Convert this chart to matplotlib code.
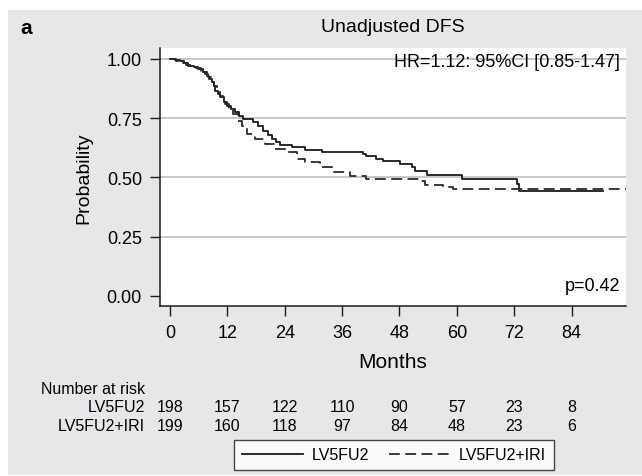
import matplotlib

matplotlib.use("Agg")
import matplotlib.pyplot as plt
from matplotlib.patches import Rectangle
from matplotlib.transforms import blended_transform_factory

# Kaplan-Meier steps (months, survival probability)
lv5fu2_t = [0, 1.0, 2.1, 3.0, 3.8, 5.0, 5.9, 7.0, 7.7, 8.2, 8.7, 9.1, 9.4, 10.0, 10.5,
            11.2, 11.9, 12.8, 13.6, 14.5, 15.3, 17.4, 18.5, 19.5, 20.4, 21.3, 22.2, 23.0,
            25.5, 28.2, 31.7, 40.4, 41.1, 43.0, 44.6, 48.1, 50.6, 51.3, 53.7, 61.0,
            72.5, 73.1, 90.6]
lv5fu2_s = [1.0, 0.995, 0.990, 0.981, 0.972, 0.965, 0.958, 0.944, 0.930, 0.916, 0.902,
            0.887, 0.866, 0.852, 0.838, 0.817, 0.803, 0.789, 0.775, 0.761, 0.747, 0.733,
            0.716, 0.698, 0.680, 0.662, 0.650, 0.639, 0.627, 0.617, 0.606, 0.600, 0.589,
            0.580, 0.571, 0.557, 0.543, 0.526, 0.512, 0.494, 0.473, 0.444, 0.444]
iri_t = [0, 1.2, 2.4, 3.4, 4.5, 5.5, 6.5, 7.3, 8.0, 8.6, 9.2, 9.8, 10.4, 11.0, 11.6,
         12.4, 13.2, 14.2, 15.0, 16.0, 17.8, 19.9, 22.0, 24.1, 26.5, 28.2, 31.4, 33.8,
         37.7, 41.1, 52.3, 53.3, 57.2, 59.3, 95.4]
iri_s = [1.0, 0.993, 0.985, 0.975, 0.968, 0.960, 0.950, 0.938, 0.922, 0.905, 0.885,
         0.862, 0.845, 0.828, 0.812, 0.790, 0.768, 0.740, 0.719, 0.684, 0.662, 0.641,
         0.620, 0.606, 0.578, 0.564, 0.543, 0.522, 0.505, 0.494, 0.487, 0.468, 0.461,
         0.451, 0.451]

x_ticks = [0, 12, 24, 36, 48, 60, 72, 84]
y_ticks = [0.0, 0.25, 0.5, 0.75, 1.0]
risk_lv5fu2 = [198, 157, 122, 110, 90, 57, 23, 8]
risk_iri = [199, 160, 118, 97, 84, 48, 23, 6]

plt.rcParams["font.family"] = ["Liberation Sans", "DejaVu Sans"]

W, H = 642, 477
fig = plt.figure(figsize=(W / 100, H / 100), dpi=100)
fig.patches.append(Rectangle((8 / W, 1 - 476 / H), 634 / W, 465 / H, transform=fig.transFigure,
                             facecolor="#e6e7e9", edgecolor="none", zorder=-10))

ax = fig.add_axes([160 / W, 1 - 307 / H, 466 / W, 258 / H])
ax.set_facecolor("white")
ax.set_xlim(-2.1, 95.4)
ax.set_ylim(-0.0422, 1.0464)

for y in [0.25, 0.5, 0.75, 1.0]:
    ax.axhline(y, color="#c4c4c4", lw=1.3, zorder=1)

ax.step(lv5fu2_t, lv5fu2_s, where="post", color="#1a1a1a", lw=1.3, zorder=3, label="LV5FU2")
ax.step(iri_t, iri_s, where="post", color="#2a2a2a", lw=1.3, ls=(0, (6, 3)), zorder=3,
        label="LV5FU2+IRI")

for side in ["top", "right"]:
    ax.spines[side].set_visible(False)
for side in ["left", "bottom"]:
    ax.spines[side].set_color("#1a1a1a")
    ax.spines[side].set_linewidth(1.1)

ax.set_xticks(x_ticks)
ax.set_yticks(y_ticks)
ax.set_yticklabels([f"{v:.2f}" for v in y_ticks])
ax.tick_params(axis="both", direction="out", length=7, width=1, color="#1a1a1a",
               labelsize=13, pad=6)
ax.set_xlabel("Months", fontsize=15, labelpad=8)
ax.set_ylabel("Probability", fontsize=14, labelpad=10)

ax.text(0.987, 0.946, "HR=1.12: 95%CI [0.85-1.47]", transform=ax.transAxes, ha="right",
        va="center", fontsize=13)
ax.text(0.987, 0.078, "p=0.42", transform=ax.transAxes, ha="right", va="center", fontsize=13)

fig.text(20 / W, 1 - 29 / H, "a", fontsize=15, fontweight="bold", ha="left", va="center")
fig.text(393 / W, 1 - 27 / H, "Unadjusted DFS", fontsize=14, ha="center", va="center")

# number at risk table
tr = blended_transform_factory(ax.transData, fig.transFigure)
fig.text(41 / W, 1 - 390 / H, "Number at risk", fontsize=11.5, ha="left", va="center")
for label, counts, ypx in [("LV5FU2", risk_lv5fu2, 408), ("LV5FU2+IRI", risk_iri, 427)]:
    fig.text(145 / W, 1 - ypx / H, label, fontsize=11.5, ha="right", va="center")
    for t, n in zip(x_ticks, counts):
        ax.text(t, 1 - ypx / H, str(n), transform=tr, fontsize=11.5, ha="center", va="center")

leg = fig.legend(loc="center", bbox_to_anchor=(394 / W, 1 - 456 / H), ncol=2, fontsize=11.5,
                 frameon=True, fancybox=False, handlelength=3.8, columnspacing=1.2,
                 borderpad=0.5, handletextpad=0.6)
leg.get_frame().set_edgecolor("#1a1a1a")
leg.get_frame().set_linewidth(1.0)

fig.savefig("out.png", dpi=100)
